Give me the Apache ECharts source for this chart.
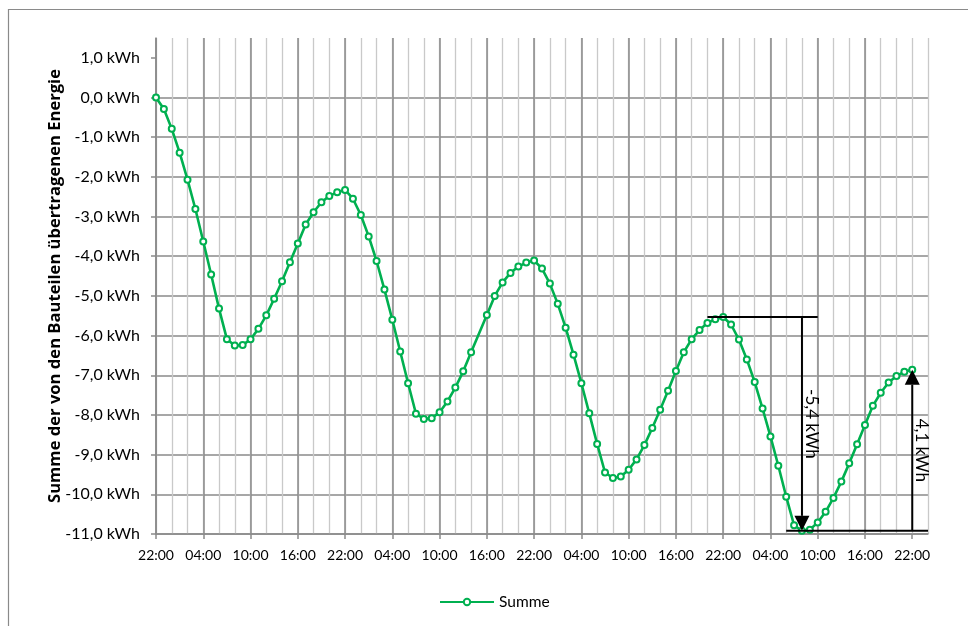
<!DOCTYPE html>
<html>
<head>
<meta charset="utf-8">
<script src="https://cdn.jsdelivr.net/npm/echarts@6/dist/echarts.min.js"></script>
<style>
  html, body { margin: 0; padding: 0; background: #ffffff; }
  #chart { width: 968px; height: 626px; }
</style>
</head>
<body>
<div id="chart"></div>
<script>
// Hourly cumulative energy (kWh), starting at 22:00 on the first day.
// Hour 41 has no reading; the line is carried straight across it.
const summe = [
   0.00, -0.29, -0.79, -1.39, -2.07, -2.81, -3.63, -4.46, -5.32, -6.09, -6.25, -6.24,
  -6.09, -5.83, -5.49, -5.07, -4.63, -4.15, -3.68, -3.20, -2.89, -2.64, -2.48, -2.39,
  -2.33, -2.55, -2.96, -3.50, -4.12, -4.84, -5.60, -6.40, -7.20, -7.97, -8.10, -8.08,
  -7.93, -7.66, -7.31, -6.90, -6.42,  null, -5.48, -5.00, -4.66, -4.42, -4.26, -4.16,
  -4.11, -4.31, -4.69, -5.20, -5.80, -6.48, -7.20, -7.96, -8.73, -9.45, -9.59, -9.55,
  -9.38, -9.12, -8.76, -8.33, -7.87, -7.39, -6.89, -6.42, -6.09, -5.86, -5.68, -5.59,
  -5.53, -5.72, -6.10, -6.60, -7.17, -7.84, -8.54, -9.28, -10.06, -10.78, -10.92, -10.89,
  -10.71, -10.44, -10.09, -9.68, -9.22, -8.74, -8.25, -7.77, -7.44, -7.18, -7.02, -6.91,
  -6.86
];

// Time labels every six hours along the x axis.
const timeLabels = [
  '22:00', '04:00', '10:00', '16:00',
  '22:00', '04:00', '10:00', '16:00',
  '22:00', '04:00', '10:00', '16:00',
  '22:00', '04:00', '10:00', '16:00',
  '22:00'
];

// Y axis ticks in kWh.
const yTicks = [-11, -10, -9, -8, -7, -6, -5, -4, -3, -2, -1, 0, 1];

// Hours used by the two dimension arrows (last peak, following low, end of series).
const peakHour = 72;
const lowHour = 82;
const endHour = 96;

const xMax = 98;
const yMin = -11;
const yMax = 1.5;

const FONT = 'Lato';
const TITLE_FONT = 'Open Sans';
const GREEN = '#00b050';
const GRID_DARK = '#8a8a8a';
const GRID_LIGHT = '#c9c9c9';

function kwh(v) {
  return v.toFixed(1).replace('.', ',') + ' kWh';
}

const points = summe.map((v, i) => [i, v]);
const majorHours = timeLabels.map((_, i) => i * 6);

// Each arrow: [x hour, start value, end value, rule start hour, rule end hour]
const spans = [
  [lowHour, summe[peakHour], summe[lowHour], peakHour - 2, lowHour + 2],
  [endHour, summe[lowHour], summe[endHour], lowHour - 2, xMax]
];

function drawSpan(params, api) {
  const x = api.value(0);
  const from = api.value(1);
  const to = api.value(2);
  const a = api.coord([x, from]);
  const b = api.coord([x, to]);
  const r0 = api.coord([api.value(3), from]);
  const r1 = api.coord([api.value(4), from]);
  const dir = b[1] > a[1] ? 1 : -1;
  const head = 15;
  const half = 7.5;
  const baseY = b[1] - dir * head;
  const mid = (a[1] + b[1]) / 2;
  return {
    type: 'group',
    children: [
      { type: 'line', shape: { x1: r0[0], y1: r0[1], x2: r1[0], y2: r1[1] },
        style: { stroke: '#000', lineWidth: 2 } },
      { type: 'line', shape: { x1: a[0], y1: a[1], x2: b[0], y2: baseY },
        style: { stroke: '#000', lineWidth: 2 } },
      { type: 'polygon', shape: { points: [[b[0], b[1]], [b[0] - half, baseY], [b[0] + half, baseY]] },
        style: { fill: '#000' } },
      { type: 'text', x: a[0] + 1, y: mid, rotation: -Math.PI / 2,
        style: { text: kwh(to - from), align: 'center', verticalAlign: 'bottom',
                 fill: '#000', font: '17px ' + FONT } }
    ]
  };
}

const chart = echarts.init(document.getElementById('chart'), null, { renderer: 'canvas' });

chart.setOption({
  animation: false,
  backgroundColor: '#ffffff',
  textStyle: { fontFamily: FONT },
  graphic: [{
    type: 'rect', silent: true,
    shape: { x: 8.5, y: 9.5, width: 1200, height: 1200 },
    style: { fill: null, stroke: '#8a8a8a', lineWidth: 1.2 }
  }],
  grid: { left: 156, right: 40, top: 38, bottom: 92 },
  legend: {
    data: ['Summe'],
    left: 434, top: 589,
    itemWidth: 54, itemHeight: 8, itemGap: 10,
    textStyle: { fontFamily: FONT, fontSize: 15.5, color: '#000' }
  },
  xAxis: [
    {
      type: 'value', position: 'bottom', min: 0, max: xMax, interval: 2,
      axisLine: { show: false }, axisTick: { show: false }, axisLabel: { show: false },
      splitLine: { show: true, lineStyle: { color: GRID_LIGHT, width: 1.3 } }
    },
    {
      type: 'value', position: 'bottom', offset: 0, min: 0, max: xMax, interval: 6, z: 1,
      axisLine: { show: true, onZero: false, lineStyle: { color: GRID_DARK, width: 1.5 } },
      axisTick: { show: true, length: 5, customValues: majorHours, lineStyle: { color: GRID_DARK, width: 1.5 } },
      axisLabel: {
        show: true, margin: 14, color: '#000', fontFamily: FONT, fontSize: 14,
        customValues: majorHours, showMinLabel: true, showMaxLabel: true,
        formatter: v => timeLabels[Math.round(v / 6)] || ''
      },
      splitLine: { show: true, showMaxLine: false, lineStyle: { color: GRID_DARK, width: 1.5 } }
    }
  ],
  yAxis: {
    type: 'value', min: yMin, max: yMax, interval: 1,
    name: 'Summe der von den Bauteilen übertragenen Energie',
    nameLocation: 'middle', nameGap: 92, nameMoveOverlap: false,
    nameTextStyle: { fontFamily: TITLE_FONT, fontWeight: 'bold', fontSize: 16.6, color: '#000' },
    axisLine: { show: true, lineStyle: { color: GRID_DARK, width: 1.5 } },
    axisTick: { show: true, length: 5, customValues: yTicks, lineStyle: { color: GRID_DARK, width: 1.5 } },
    axisLabel: {
      margin: 16, color: '#000', fontFamily: FONT, fontSize: 16,
      customValues: yTicks, showMinLabel: true, showMaxLabel: true,
      formatter: v => kwh(v)
    },
    splitLine: { show: true, showMaxLine: false, lineStyle: { color: GRID_DARK, width: 1.5 } }
  },
  series: [
    {
      name: 'Summe',
      type: 'line',
      xAxisIndex: 1,
      data: points,
      connectNulls: true,
      symbol: 'emptyCircle',
      symbolSize: 6,
      itemStyle: { color: GREEN, borderWidth: 1.6 },
      lineStyle: { color: GREEN, width: 2.6 },
      z: 3
    },
    {
      name: 'Bemaßung',
      type: 'custom',
      xAxisIndex: 1,
      data: spans,
      renderItem: drawSpan,
      silent: true,
      z: 4
    }
  ]
});
</script>
</body>
</html>
